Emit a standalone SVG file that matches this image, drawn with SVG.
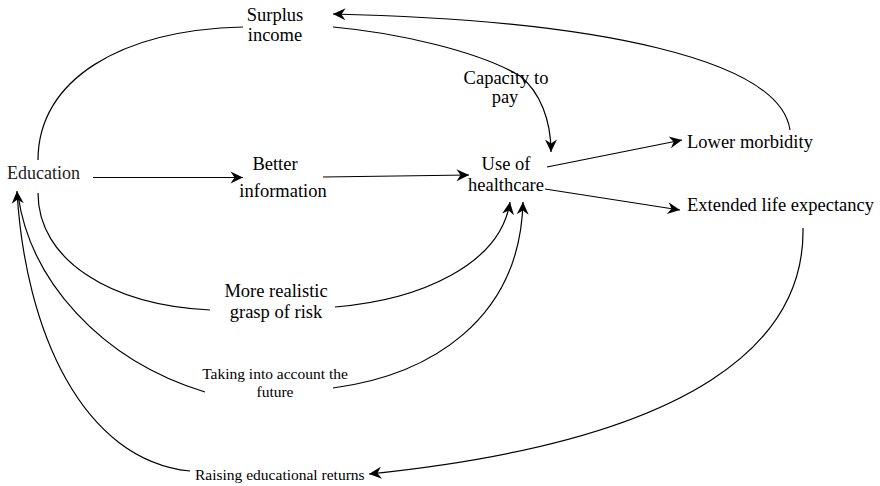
<svg xmlns="http://www.w3.org/2000/svg" width="880" height="486" viewBox="0 0 880 486">
  <style>
    .lbl { font-size: 18.5px; fill: #000; }
    .sm { font-size: 15.5px; fill: #000; }
    .mid { text-anchor: middle; }
    .edge { fill: none; stroke: #000; stroke-width: 1.2; }
    .arr { marker-end: url(#head); }
  </style>
  <defs>
    <marker id="head" markerUnits="userSpaceOnUse" markerWidth="16" markerHeight="14" viewBox="-13 -7 15 14" refX="0" refY="0" orient="auto">
      <path d="M0,0 L-12.5,-6 L-8.5,0 L-12.5,6 Z" fill="#000"/>
    </marker>
  </defs>

  <!-- connectors -->
  <g id="connectors">
    <!-- Education to Better information -->
    <path class="edge arr" d="M93,177.5 L243,177.5"/>
    <!-- Better information to Use of healthcare -->
    <path class="edge arr" d="M323,177 L469,175"/>
    <!-- Education to Surplus income -->
    <path class="edge" d="M38,160 C38,80 120,30 243,27"/>
    <!-- Surplus income to Use of healthcare (capacity to pay) -->
    <path class="edge arr" d="M333,27 C400,33 480,52 520,76 C540,92 551,120 551,152"/>
    <!-- Use of healthcare to Lower morbidity -->
    <path class="edge arr" d="M547,167 L682,140"/>
    <!-- Use of healthcare to Extended life expectancy -->
    <path class="edge arr" d="M545,189 L680,210"/>
    <!-- Lower morbidity back to Surplus income -->
    <path class="edge arr" d="M790,130 C780,60 600,20 333,14"/>
    <!-- Extended life expectancy to Raising educational returns -->
    <path class="edge arr" d="M803,228 C805,340 700,440 369,474"/>
    <!-- Education to More realistic grasp of risk -->
    <path class="edge" d="M38,193 C38,260 110,305 210,310"/>
    <!-- More realistic grasp of risk to Use of healthcare -->
    <path class="edge arr" d="M335,307 C420,300 500,265 510,202"/>
    <!-- Education to Taking into account the future -->
    <path class="edge" d="M18,195 C30,280 100,360 205,392"/>
    <!-- Taking into account the future to Use of healthcare -->
    <path class="edge arr" d="M333,388 C430,375 520,320 523,202"/>
    <!-- Raising educational returns back to Education -->
    <path class="edge arr" d="M190,471 C82,460 25,330 17,191"/>
  </g>

  <g font-family="Liberation Serif">
    <g id="education">
      <text font-family="Liberation Serif" x="7" y="179" style="font-size:18px;fill:#222">Education</text>
    </g>
    <g id="surplus-income">
      <text font-family="Liberation Serif" class="lbl mid" x="275" y="21">Surplus</text>
      <text font-family="Liberation Serif" class="lbl mid" x="275" y="41">income</text>
    </g>
    <g id="better-information">
      <text font-family="Liberation Serif" class="lbl mid" x="275" y="170">Better</text>
      <text font-family="Liberation Serif" class="lbl mid" x="283" y="197">information</text>
    </g>
    <g id="capacity-to-pay">
      <text font-family="Liberation Serif" class="lbl mid" x="506" y="84">Capacity to</text>
      <text font-family="Liberation Serif" class="lbl mid" x="505" y="103">pay</text>
    </g>
    <g id="use-of-healthcare">
      <text font-family="Liberation Serif" class="lbl mid" x="506" y="170">Use of</text>
      <text font-family="Liberation Serif" class="lbl mid" x="506" y="191">healthcare</text>
    </g>
    <g id="lower-morbidity">
      <text font-family="Liberation Serif" class="lbl" x="687" y="148">Lower morbidity</text>
    </g>
    <g id="extended-life-expectancy">
      <text font-family="Liberation Serif" class="lbl" x="687" y="211">Extended life expectancy</text>
    </g>
    <g id="realistic-risk">
      <text font-family="Liberation Serif" class="lbl mid" x="276" y="297">More realistic</text>
      <text font-family="Liberation Serif" class="lbl mid" x="276" y="318">grasp of risk</text>
    </g>
    <g id="taking-future">
      <text font-family="Liberation Serif" class="sm mid" x="275" y="379">Taking into account the</text>
      <text font-family="Liberation Serif" class="sm mid" x="275" y="397">future</text>
    </g>
    <g id="raising-returns">
      <text font-family="Liberation Serif" class="sm" x="195" y="480">Raising educational returns</text>
    </g>
  </g>
</svg>
